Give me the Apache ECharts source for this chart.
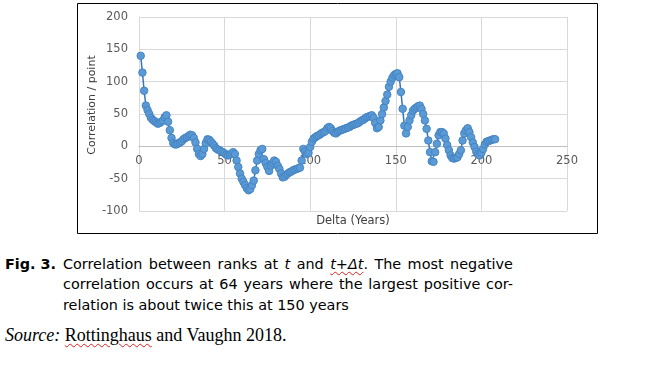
<!DOCTYPE html>
<html>
<head>
<meta charset="utf-8">
<script src="https://cdn.jsdelivr.net/npm/echarts@6/dist/echarts.min.js"></script>
<style>
  body { margin: 0; background: #fff; width: 658px; height: 376px; overflow: hidden; position: relative; }
  #chart { position: absolute; left: 0; top: 0; width: 658px; height: 240px; }
  .cap { position: absolute; font-family: "DejaVu Sans", Verdana, sans-serif; font-size: 14.4px; line-height: 20px; color: #000; white-space: nowrap; }
  .src { position: absolute; left: 5px; top: 324px; font-family: "Liberation Serif", "Times New Roman", serif; font-size: 18px; line-height: 22px; white-space: nowrap; }
  .wavy { text-decoration: underline wavy #e02020; text-decoration-thickness: 1px; text-underline-offset: 2px; }
</style>
</head>
<body>
<div id="chart"></div>

<div class="cap" style="left:5px; top:254px;"><b>Fig. 3.</b></div>
<div class="cap just" style="left:63px; top:254px;">Correlation between ranks at <i>t</i> and <i class="wavy">t+Δt</i>. The most negative</div>
<div class="cap just" style="left:63px; top:274px;">correlation occurs at 64 years where the largest positive cor-</div>
<div class="cap" style="left:63px; top:295px;">relation is about twice this at 150 years</div>
<div class="src"><i>Source:</i> <span class="wavy">Rottinghaus</span> and Vaughn 2018.</div>

<script>
// x 轴 / y 轴刻度
const xTicks = [0, 50, 100, 150, 200, 250];
const yTicks = [-100, -50, 0, 50, 100, 150, 200];

// 第一个 Delta (年)
const firstDelta = 1;

// 每年的相关值 (Delta = 1, 2, 3 ...)
const correlation = [
  140, 114, 86, 63, 56, 50, 44, 41, 39, 37,
  35, 36, 38, 40, 45, 48, 38, 25, 13, 5,
  3, 3, 5, 6, 8, 11, 13, 14, 16, 18,
  17, 13, 6, -4, -12, -15, -12, -4, 5, 11,
  10, 7, 4, 1, -3, -5, -6, -8, -9, -11,
  -13, -14, -13, -11, -9, -12, -22, -32, -42, -50,
  -55, -60, -65, -68, -66, -60, -53, -37, -22, -12,
  -6, -4, -20, -26, -32, -38, -30, -26, -22, -24,
  -30, -35, -42, -48, -47, -44, -42, -40, -39, -37,
  -36, -35, -34, -33, -22, -4, -8, -12, -10, -1,
  7, 12, 14, 16, 17, 19, 21, 22, 24, 28,
  30, 28, 24, 21, 20, 22, 24, 25, 26, 27,
  28, 29, 30, 32, 33, 34, 35, 36, 38, 40,
  41, 43, 45, 46, 47, 48, 44, 36, 28, 30,
  40, 50, 60, 70, 80, 92, 100, 106, 110, 112,
  113, 107, 84, 58, 32, 20, 30, 40, 48, 55,
  58, 60, 62, 63, 58, 50, 40, 27, 9, -9,
  -23, -24, -9, 4, 17, 22, 22, 20, 12, 2,
  -6, -14, -18, -19, -18, -17, -12, -6, 9, 20,
  25, 28, 22, 14, 6, -1, -8, -12, -14, -10,
  -4, 3, 7, 8, 9, 10, 11, 11
];

const points = correlation.map((v, i) => [firstDelta + i, v]);

const chart = echarts.init(document.getElementById('chart'));
const tickFont = { fontFamily: '"DejaVu Sans", Verdana, sans-serif', fontSize: 11.5, color: '#595959' };

const gridTop = 17, gridHeight = 194;
const yMin = yTicks[0], yMax = yTicks[yTicks.length - 1];
// 把 x 轴(线和标签)移到 y = 0 处, 像 Excel 一样
const zeroOffset = -gridHeight * (0 - yMin) / (yMax - yMin);

const option = {
  animation: false,
  grid: { left: 139, top: gridTop, width: 428, height: gridHeight },
  xAxis: {
    type: 'value',
    min: xTicks[0],
    max: xTicks[xTicks.length - 1],
    interval: xTicks[1] - xTicks[0],
    offset: zeroOffset,
    axisLine: { show: true, onZero: false, lineStyle: { color: '#bfbfbf', width: 1 } },
    axisTick: { show: false },
    axisLabel: Object.assign({ margin: 9 }, tickFont),
    splitLine: { show: true, lineStyle: { color: '#d9d9d9', width: 1 } }
  },
  yAxis: {
    type: 'value',
    min: yMin,
    max: yMax,
    interval: yTicks[1] - yTicks[0],
    axisLine: { show: true, lineStyle: { color: '#d9d9d9', width: 1 } },
    axisTick: { show: false },
    axisLabel: Object.assign({ margin: 11 }, tickFont),
    splitLine: { show: true, lineStyle: { color: '#d9d9d9', width: 1 } }
  },
  graphic: [
    {
      type: 'rect', silent: true,
      shape: { x: 77.5, y: 3.5, width: 520, height: 230 },
      style: { fill: 'none', stroke: '#000', lineWidth: 1 }
    },
    {
      type: 'text', x: 353, y: 221,
      style: { text: 'Delta (Years)', align: 'center', verticalAlign: 'middle',
               fontFamily: '"DejaVu Sans", Verdana, sans-serif', fontSize: 11.5, fill: '#404040' }
    },
    {
      type: 'text', x: 92, y: 105, rotation: Math.PI / 2,
      style: { text: 'Correlation / point', align: 'center', verticalAlign: 'middle',
               fontFamily: '"DejaVu Sans", Verdana, sans-serif', fontSize: 11, fill: '#404040' }
    }
  ],
  series: [{
    type: 'line',
    data: points,
    symbol: 'circle',
    symbolSize: 7.5,
    lineStyle: { color: '#3674bb', width: 1.5 },
    itemStyle: { color: '#5b9bd5', borderColor: '#4584c4', borderWidth: 1 }
  }]
};
chart.setOption(option);

// 两端对齐的说明文字行
document.querySelectorAll('.just').forEach(el => {
  const target = 450;
  const spaces = (el.textContent.match(/ /g) || []).length;
  const w = el.getBoundingClientRect().width;
  el.style.wordSpacing = ((target - w) / spaces) + 'px';
});
</script>
</body>
</html>
